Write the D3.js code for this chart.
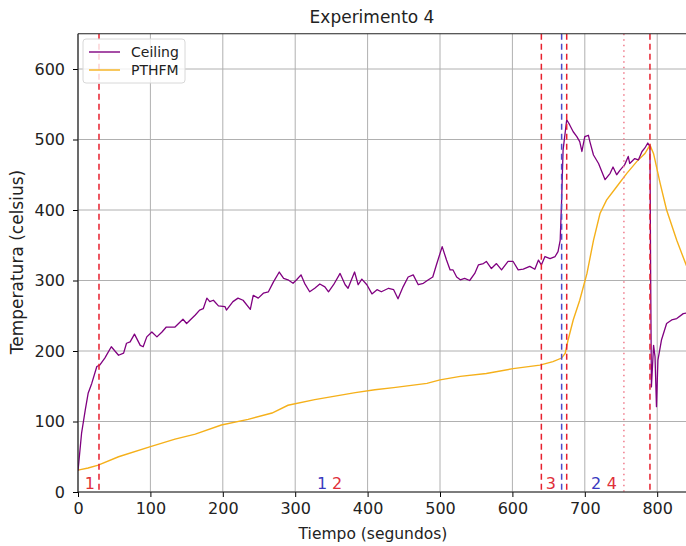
<!DOCTYPE html>
<html><head><meta charset="utf-8">
<script src="https://cdn.jsdelivr.net/npm/d3@7"></script>
<style>body{margin:0;background:#fff}svg{display:block}text{font-family:"DejaVu Sans",sans-serif}</style>
</head><body><svg id="c" width="686" height="546"></svg>
<script>
const ceilingT = [0,5,10,14,19,26,30,37,46,56,63,67,72,78,86,90,95,102,109,116,122,134,145,150,162,168,173,178,182,187,194,203,205,214,221,228,238,242,249,256,263,270,278,284,290,297,302,308,313,320,327,334,341,346,353,362,369,373,382,387,392,399,406,413,419,429,436,442,449,456,463,470,477,484,490,495,503,509,514,518,523,528,534,541,548,553,560,564,571,578,585,594,601,608,615,624,631,636,640,645,652,659,663,666,668,670,675,679,684,689,693,696,700,705,707,712,719,728,735,739,744,749,755,760,762,769,774,779,783,787,790,791,792,795,797,799,801,806,813,820,827,836,845];
const ceilingV = [30,84,116,140,154,178,180,190,206,194,197,211,213,224,208,206,220,227,220,227,234,234,245,239,251,258,260,275,270,272,264,263,258,270,275,272,259,279,275,282,284,298,312,303,301,296,301,308,296,284,289,295,291,284,294,310,294,289,312,294,302,294,281,287,284,289,287,274,291,305,308,294,296,301,305,322,348,329,315,315,305,301,303,300,310,322,324,327,317,324,315,327,327,315,316,320,316,329,322,334,331,334,341,357,414,485,528,521,511,504,497,483,504,506,497,478,466,443,452,461,450,457,464,476,466,473,471,483,488,495,490,300,149,208,192,121,187,216,239,244,246,253,255];
const pthfmT = [0,14,28,56,99,134,162,198,235,268,290,327,355,383,410,436,482,500,528,564,601,638,656,668,673,677,684,693,703,712,721,730,744,758,772,783,790,795,804,813,827,840,845];
const pthfmV = [31,34,38,50,64,75,82,95,103,112,123,131,136,141,145,148,154,159,164,168,175,180,185,190,197,216,244,272,310,357,395,414,433,452,469,480,492,480,438,400,357,322,312];
const xTicks = [0,100,200,300,400,500,600,700,800];
const yTicks = [0,100,200,300,400,500,600];
const eventT = [29,640,668,675,754,790];
const eventKind = ["red","red","blue","red","dot","red"];
const labelText = ["1","1","2","3","2","4"];
const labelT = [16.5,337,358,653,715.5,737.5];
const labelKind = ["red","blue","red","red","blue","red"];

const svg = d3.select("#c");
const x = d3.scaleLinear().domain([0,850]).range([78, 78+850*0.724]);
const y = d3.scaleLinear().domain([0,650]).range([492, 492-650*0.705]);
const L=78, R=x(850), T=y(650), B=492;

svg.append("defs").append("clipPath").attr("id","clip").append("rect")
  .attr("x",L).attr("y",T).attr("width",R-L).attr("height",B-T);

// grid
const g = svg.append("g");
g.selectAll(".gx").data(xTicks).join("line").attr("x1",d=>x(d)).attr("x2",d=>x(d))
  .attr("y1",T).attr("y2",B).attr("stroke","#b0b0b0").attr("stroke-width",1);
g.selectAll(".gy").data(yTicks).join("line").attr("y1",d=>y(d)).attr("y2",d=>y(d))
  .attr("x1",L).attr("x2",R).attr("stroke","#b0b0b0").attr("stroke-width",1);

const plot = svg.append("g").attr("clip-path","url(#clip)");
const line = d3.line().x(d=>x(d[0])).y(d=>y(d[1]));
plot.append("path").datum(pthfmT.map((t,i)=>[t,pthfmV[i]])).attr("d",line)
  .attr("fill","none").attr("stroke","#f5b01a").attr("stroke-width",1.4);
plot.append("path").datum(ceilingT.map((t,i)=>[t,ceilingV[i]])).attr("d",line)
  .attr("fill","none").attr("stroke","#800080").attr("stroke-width",1.3).attr("stroke-linejoin","round");

const kc = {red:"#e8202e", blue:"#4a4ac8", dot:"#f07a8c"};
plot.selectAll(".ev").data(eventT).join("line")
  .attr("x1",d=>x(d)).attr("x2",d=>x(d)).attr("y1",T).attr("y2",B)
  .attr("stroke",(d,i)=>kc[eventKind[i]]).attr("stroke-width",1.5)
  .attr("stroke-dasharray",(d,i)=>eventKind[i]==="dot"?"1.5,4":"6,4");

svg.selectAll(".lab").data(labelT).join("text")
  .attr("x",d=>x(d)).attr("y",y(0)-3).attr("text-anchor","middle")
  .attr("font-size",16).attr("fill",(d,i)=>labelKind[i]==="blue"?"#3a3ac0":"#e0303a")
  .text((d,i)=>labelText[i]);

// axes
const ax = svg.append("g").attr("transform",`translate(0,${B})`)
  .call(d3.axisBottom(x).tickValues(xTicks).tickSize(5).tickPadding(6));
ax.select(".domain").remove();
ax.selectAll("text").attr("font-size",16).attr("fill","#222");
const ay = svg.append("g").attr("transform",`translate(${L},0)`)
  .call(d3.axisLeft(y).tickValues(yTicks).tickSize(5).tickPadding(8));
ay.select(".domain").remove();
ay.selectAll("text").attr("font-size",16).attr("fill","#222");

svg.append("line").attr("x1",L).attr("x2",R).attr("y1",B).attr("y2",B).attr("stroke","#222").attr("stroke-width",1.2);
svg.append("line").attr("x1",L).attr("x2",R).attr("y1",T).attr("y2",T).attr("stroke","#222").attr("stroke-width",1.2);
svg.append("line").attr("x1",L).attr("x2",L).attr("y1",T).attr("y2",B).attr("stroke","#222").attr("stroke-width",1.2);

svg.append("text").attr("x",372).attr("y",23).attr("text-anchor","middle").attr("font-size",17).attr("fill","#222").text("Experimento 4");
svg.append("text").attr("x",373).attr("y",539).attr("text-anchor","middle").attr("font-size",15.5).attr("fill","#222").text("Tiempo (segundos)");
svg.append("text").attr("transform","translate(23,262) rotate(-90)").attr("text-anchor","middle").attr("font-size",17).attr("fill","#222").text("Temperatura (celsius)");

// legend
const lg = svg.append("g");
lg.append("rect").attr("x",83).attr("y",39).attr("width",102).attr("height",44).attr("rx",3)
  .attr("fill","rgba(255,255,255,0.8)").attr("stroke","#d8d8d8");
const legNames = ["Ceiling","PTHFM"], legCols = ["#800080","#f5b01a"];
legNames.forEach((n,i)=>{
  lg.append("line").attr("x1",89).attr("x2",120).attr("y1",52+i*18).attr("y2",52+i*18).attr("stroke",legCols[i]).attr("stroke-width",1.4);
  lg.append("text").attr("x",131).attr("y",57+i*18).attr("font-size",14).attr("fill","#222").text(n);
});
</script></body></html>
